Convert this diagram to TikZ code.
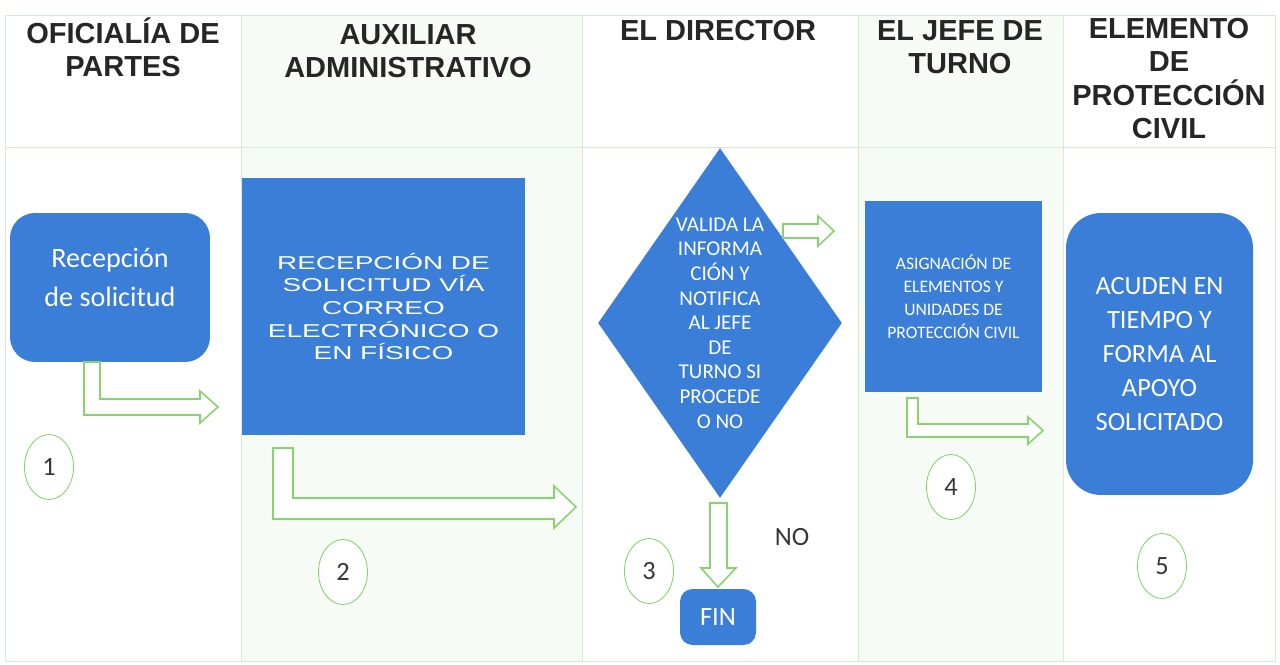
\documentclass[tikz,border=0pt]{standalone}
\usepackage{fontspec}
\setmainfont{Carlito}
\newfontfamily\headfont{Liberation Sans}
\newfontfamily\widefont[FakeStretch=1.5]{Liberation Sans}
\usepackage{tikz}
\usetikzlibrary{positioning}
\usetikzlibrary{shapes.geometric}
\usepackage{xcolor}
\definecolor{boxblue}{RGB}{58,126,216}
\definecolor{arrowgreen}{RGB}{135,212,110}
\definecolor{laneline}{RGB}{212,234,212}
\definecolor{lanetint}{RGB}{246,252,245}
\definecolor{numgray}{RGB}{55,55,55}
\tikzset{
    lanehead/.style={
        anchor=north,
        align=center,
        inner sep=0pt,
        text=black!85,
        font=\headfont\bfseries\fontsize{16.5}{19}\selectfont
    },
    stepbox/.style={
        fill=boxblue,
        text=white,
        align=center,
        inner sep=0pt
    },
    numcirc/.style={
        ellipse,
        draw=arrowgreen,
        fill=white,
        line width=0.5pt,
        minimum width=0.98cm,
        minimum height=1.3cm,
        inner sep=0pt,
        text=numgray,
        font=\fontsize{15}{18}\selectfont
    },
    blockarrow/.style={
        draw=arrowgreen,
        fill=white,
        line width=0.9pt
    }
}

\begin{document}
\begin{tikzpicture}[x=0.02cm, y=-0.02cm]
    \useasboundingbox (0,0) rectangle (1280,665);
    \fill[white] (0,0) rectangle (1280,665);

    % Lanes
    \fill[lanetint] (241,15) rectangle (582,661);
    \fill[lanetint] (858,15) rectangle (1063,661);
    \draw[laneline] (5,15) rectangle (1275,661);
    \foreach \x in {241,582,858,1063}
        \draw[laneline] (\x,15) -- (\x,661);
    \draw[laneline] (5,147) -- (1275,147);

    % Lane headers
    \node[lanehead] (hofi) at (123,17) {OFICIALÍA DE\\PARTES};
    \node[lanehead] (haux) at (408,24) {AUXILIAR\\ADMINISTRATIVO};
    \node[lanehead] (hdir) at (718,20) {EL DIRECTOR};
    \node[lanehead] (hjef) at (960,20) {EL JEFE DE\\TURNO};
    \node[lanehead] (hele) at (1169,18) {ELEMENTO\\DE\\PROTECCIÓN\\CIVIL};

    % Steps
    \node[stepbox, rounded corners=0.5cm, minimum width=4cm, minimum height=2.98cm]
        (recep) at (110,287.5) {};
    \node[text=white, align=center, inner sep=0pt,
        font=\fontsize{16}{22}\selectfont] (receptxt) at (110,277.5) {Recepción\\de solicitud};
    \node[stepbox, minimum width=5.66cm, minimum height=5.14cm,
        font=\widefont\fontsize{10.6}{12.9}\selectfont] (correo) at (383.5,306.5)
        {RECEPCIÓN DE\\SOLICITUD VÍA\\CORREO\\ELECTRÓNICO O\\EN FÍSICO};
    \node[diamond, fill=boxblue, minimum width=4.88cm, minimum height=7cm,
        inner sep=0pt] (valida) at (720,323) {};
    \node[text=white, align=center, inner sep=0pt,
        font=\fontsize{12}{14}\selectfont] (validatxt) at (valida.center)
        {VALIDA LA\\INFORMA\\CIÓN Y\\NOTIFICA\\AL JEFE\\DE\\TURNO SI\\PROCEDE\\O NO};
    \node[stepbox, minimum width=3.54cm, minimum height=3.82cm,
        font=\fontsize{10}{13}\selectfont] (asigna) at (953.5,296.5)
        {ASIGNACIÓN DE\\ELEMENTOS Y\\UNIDADES DE\\PROTECCIÓN CIVIL};
    \node[stepbox, rounded corners=0.7cm, minimum width=3.74cm, minimum height=5.64cm,
        font=\fontsize{15}{19.3}\selectfont] (acuden) at (1159.5,354)
        {ACUDEN EN\\TIEMPO Y\\FORMA AL\\APOYO\\SOLICITADO};
    \node[stepbox, rounded corners=0.25cm, minimum width=1.52cm, minimum height=1.12cm,
        font=\fontsize{15}{18}\selectfont] (fin) at (718,617) {FIN};
    \node[text=numgray, font=\fontsize{15}{18}\selectfont] (no) at (792,537) {NO};

    % Step numbers
    \node[numcirc] (n1) at (49,467) {1};
    \node[numcirc] (n2) at (343,572) {2};
    \node[numcirc] (n3) at (649,571) {3};
    \node[numcirc] (n4) at (951,487) {4};
    \node[numcirc] (n5) at (1162,566) {5};

    % Block arrows
    \draw[blockarrow] (84,362) -- (100,362) -- (100,399) -- (200,399) -- (200,391)
        -- (218,407) -- (200,423) -- (200,415) -- (84,415) -- cycle;
    \draw[blockarrow] (273,448) -- (293,448) -- (293,498) -- (554,498) -- (554,486)
        -- (576,507) -- (554,528) -- (554,519) -- (273,519) -- cycle;
    \draw[blockarrow] (783,224) -- (818,224) -- (818,216) -- (834,231) -- (818,246)
        -- (818,238) -- (783,238) -- cycle;
    \draw[blockarrow] (710,503) -- (727,503) -- (727,568) -- (736,568) -- (718,587)
        -- (701,568) -- (710,568) -- cycle;
    \draw[blockarrow] (907,398) -- (918,398) -- (918,424) -- (1028,424) -- (1028,417)
        -- (1043,430.5) -- (1028,444) -- (1028,437) -- (907,437) -- cycle;
\end{tikzpicture}
\end{document}
